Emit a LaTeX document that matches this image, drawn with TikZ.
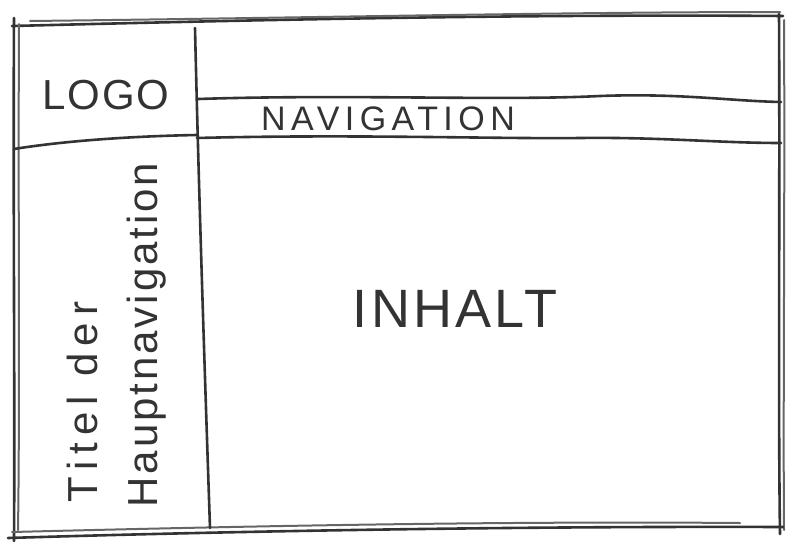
\documentclass[tikz,border=0pt]{standalone}
\usepackage{fontspec}
\setmainfont{Liberation Sans}
\begin{document}
\begin{tikzpicture}[x=1pt,y=-1pt,
  pen/.style={draw=black!80,line width=2.6pt,line cap=round,line join=round},
  penlight/.style={draw=black!60,line width=2pt,line cap=round},
  label/.style={inner sep=0pt,text=black!80},
]
\useasboundingbox[fill=white] (0,0) rectangle (787,544);
% outer frame (double strokes)
\draw[pen] (12,26) .. controls (250,20) and (520,14) .. (783,16);
\draw[penlight] (30,21) .. controls (300,18) and (560,12) .. (780,12);
\draw[pen] (14,18) .. controls (13,200) and (15,400) .. (14,541);
\draw[penlight] (19,24) .. controls (18,200) and (20,400) .. (18,530);
\draw[pen] (779,14) .. controls (780,200) and (778,400) .. (780,534);
\draw[penlight] (784,20) .. controls (785,200) and (783,400) .. (784,530);
\draw[pen] (8,538) .. controls (200,532) and (500,526) .. (783,527);
\draw[penlight] (12,532) .. controls (250,526) and (500,521) .. (740,523);
% vertical divider
\draw[pen] (195,28) .. controls (199,200) and (205,380) .. (210,528);
% logo bottom line
\draw[pen] (14,149) .. controls (70,140) and (140,136) .. (197,135);
% navigation lines
\draw[pen] (198,99) .. controls (350,94) and (500,101) .. (600,96) .. controls (680,93) and (730,101) .. (781,102);
\draw[pen] (197,138) .. controls (350,134) and (500,139) .. (580,138) .. controls (660,137) and (720,143) .. (781,143);
% texts
\node[label,anchor=base] (logo) at (106,109) {\fontsize{42}{48}\selectfont\addfontfeatures{LetterSpace=4}LOGO};
\node[label,anchor=base] (nav) at (388,130) {\fontsize{34}{40}\selectfont\addfontfeatures{LetterSpace=16}NAVIGATION};
\node[label,anchor=base] (inhalt) at (455,327) {\fontsize{54}{60}\selectfont\addfontfeatures{LetterSpace=6}INHALT};
\node[label,anchor=base,rotate=90] (titel) at (97,402) {\fontsize{42}{48}\selectfont\addfontfeatures{LetterSpace=17}Titel der};
\node[label,anchor=base,rotate=90] (haupt) at (157,335) {\fontsize{42}{48}\selectfont\addfontfeatures{LetterSpace=7}Hauptnavigation};
\end{tikzpicture}
\end{document}
